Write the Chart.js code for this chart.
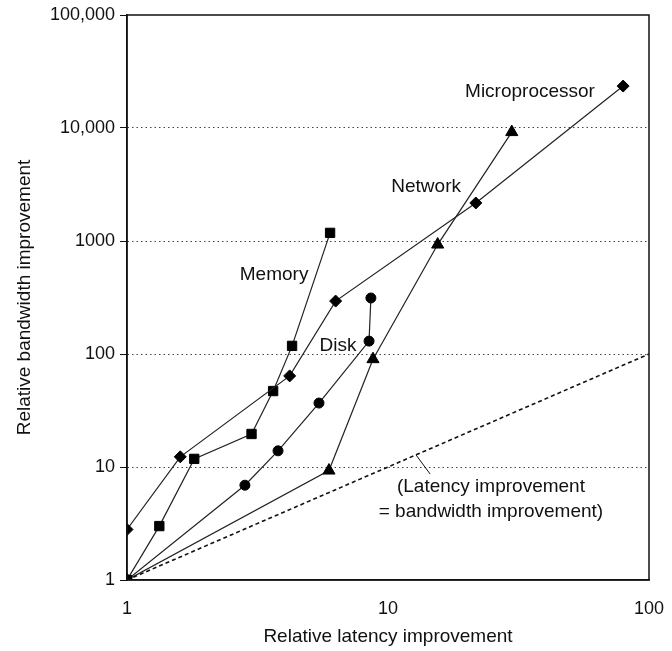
<!DOCTYPE html>
<html>
<head>
<meta charset="utf-8">
<script src="https://cdn.jsdelivr.net/npm/chart.js@4/dist/chart.umd.min.js"></script>
<style>
  body { margin: 0; background: #fff; }
  #wrap { width: 672px; height: 651px; }
</style>
</head>
<body>
<div id="wrap"><canvas id="chart"></canvas></div>
<script>
// values (latency improvement, bandwidth improvement)
const microLatency = [1, 1.6, 4.2, 6.3, 21.7, 79.6];
const microBandwidth = [2.8, 12.3, 64, 294, 2170, 23500];

const memoryLatency = [1, 1.33, 1.81, 3.0, 3.63, 4.29, 6.0];
const memoryBandwidth = [1, 3, 11.8, 19.6, 47, 118, 1180];

const diskLatency = [1, 2.83, 3.79, 5.44, 8.46, 8.6];
const diskBandwidth = [1, 6.9, 13.9, 36.8, 130, 313];

const networkLatency = [1, 5.94, 8.76, 15.5, 29.8];
const networkBandwidth = [1, 9.3, 90, 930, 9200];

// reference line: latency improvement = bandwidth improvement
const equalLine = [1, 100];

const xTicks = [1, 10, 100];
const xTickLabels = ['1', '10', '100'];
const yTicks = [1, 10, 100, 1000, 10000, 100000];
const yTickLabels = ['1', '10', '100', '1000', '10,000', '100,000'];

const FONT = '"Liberation Sans", Arial, Helvetica, sans-serif';

function pts(xs, ys) {
  return xs.map((x, i) => ({ x: x, y: ys[i] }));
}

function series(label, xs, ys, style, radius) {
  return {
    label: label,
    data: pts(xs, ys),
    borderColor: '#222',
    borderWidth: 1.2,
    backgroundColor: '#000',
    pointBackgroundColor: '#000',
    pointBorderColor: '#000',
    pointBorderWidth: 1,
    pointStyle: style,
    pointRadius: radius,
    showLine: true,
    tension: 0
  };
}

// text labels placed in data coordinates
const labels = [
  { text: 'Microprocessor', x: 35, y: 20800 },
  { text: 'Network', x: 14.0, y: 3000 },
  { text: 'Memory', x: 3.66, y: 500 },
  { text: 'Disk', x: 6.43, y: 118 },
  { text: '(Latency improvement', x: 24.8, y: 6.65 },
  { text: '= bandwidth improvement)', x: 24.8, y: 4.0 }
];

const framePlugin = {
  id: 'frame',
  afterDraw(chart) {
    const { ctx, chartArea: a, scales } = chart;
    ctx.save();
    ctx.strokeStyle = '#111';
    ctx.lineWidth = 1.5;
    ctx.strokeRect(a.left, a.top, a.right - a.left, a.bottom - a.top);

    // leader from the equality line to its note
    ctx.lineWidth = 1;
    ctx.beginPath();
    ctx.moveTo(scales.x.getPixelForValue(12.8), scales.y.getPixelForValue(12.8));
    ctx.lineTo(scales.x.getPixelForValue(14.5), scales.y.getPixelForValue(8.67));
    ctx.stroke();

    ctx.fillStyle = '#111';
    ctx.font = '19px ' + FONT;
    ctx.textAlign = 'center';
    ctx.textBaseline = 'middle';
    labels.forEach(l => {
      ctx.fillText(l.text, scales.x.getPixelForValue(l.x), scales.y.getPixelForValue(l.y));
    });
    ctx.restore();
  }
};

new Chart(document.getElementById('chart'), {
  type: 'scatter',
  data: {
    datasets: [
      {
        label: 'Equal',
        data: pts(equalLine, equalLine),
        borderColor: '#111',
        borderWidth: 1.6,
        borderDash: [4, 3],
        pointRadius: 0,
        showLine: true
      },
      series('Microprocessor', microLatency, microBandwidth, 'rectRot', 6),
      series('Memory', memoryLatency, memoryBandwidth, 'rect', 6.6),
      series('Disk', diskLatency, diskBandwidth, 'circle', 5),
      series('Network', networkLatency, networkBandwidth, 'triangle', 7)
    ]
  },
  options: {
    responsive: true,
    maintainAspectRatio: false,
    animation: false,
    layout: { padding: { left: 0, right: 23, top: 15, bottom: 0 } },
    plugins: {
      legend: { display: false },
      tooltip: { enabled: false }
    },
    scales: {
      x: {
        type: 'logarithmic',
        min: 1,
        max: 100,
        afterBuildTicks: s => { s.ticks = xTicks.map(v => ({ value: v })); },
        afterFit: s => { s.height = 71; s.paddingLeft = 0; s.paddingRight = 0; },
        grid: { display: true, drawOnChartArea: false, drawTicks: false, color: 'transparent' },
        border: { display: true, color: '#111', width: 1.5 },
        ticks: {
          padding: 18,
          color: '#111',
          font: { family: FONT, size: 18 },
          maxRotation: 0,
          autoSkip: false,
          callback: (v, i) => xTickLabels[i]
        },
        title: {
          display: true,
          text: 'Relative latency improvement',
          color: '#111',
          font: { family: FONT, size: 19 },
          padding: { top: 0, bottom: 3 }
        }
      },
      y: {
        type: 'logarithmic',
        min: 1,
        max: 100000,
        afterBuildTicks: s => { s.ticks = yTicks.map(v => ({ value: v })); },
        afterFit: s => { s.width = 127; s.paddingTop = 0; s.paddingBottom = 0; },
        grid: {
          color: c => (c.tick && (c.tick.value === 1 || c.tick.value === 100000)) ? 'transparent' : '#444',
          lineWidth: 1,
          tickColor: '#111',
          tickLength: 7,
          tickBorderDash: []
        },
        border: { display: true, color: '#111', width: 1.5, dash: [1.5, 3] },
        ticks: {
          padding: 5,
          color: '#111',
          font: { family: FONT, size: 18 },
          autoSkip: false,
          callback: (v, i) => yTickLabels[i]
        },
        title: {
          display: true,
          text: 'Relative bandwidth improvement',
          color: '#111',
          font: { family: FONT, size: 19 },
          padding: { top: 13, bottom: 0 }
        }
      }
    }
  },
  plugins: [framePlugin]
});
</script>
</body>
</html>
